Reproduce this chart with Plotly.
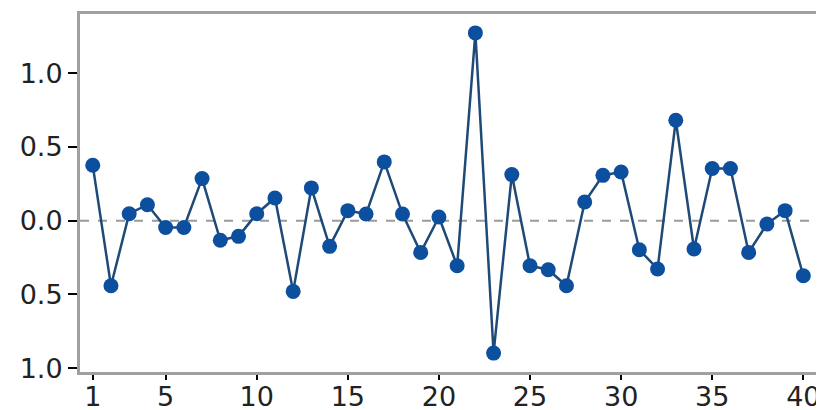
import plotly.graph_objects as go

obs = list(range(1, 41))
values = [0.375, -0.441, 0.047, 0.108, -0.046, -0.046, 0.285, -0.133, -0.106, 0.047,
          0.154, -0.479, 0.222, -0.174, 0.068, 0.045, 0.398, 0.045, -0.215, 0.025,
          -0.305, 1.272, -0.897, 0.312, -0.305, -0.332, -0.441, 0.127, 0.307, 0.330,
          -0.197, -0.327, 0.680, -0.192, 0.353, 0.353, -0.215, -0.023, 0.068, -0.373]
x_ticks = [1, 5, 10, 15, 20, 25, 30, 35, 40]
y_ticks = [1.0, 0.5, 0.0, -0.5, -1.0]
y_ticktext = ["1.0", "0.5", "0.0", "0.5", "1.0"]

fig = go.Figure()
fig.add_trace(go.Scatter(
    x=obs, y=values, mode="lines+markers",
    line=dict(color="#1f4a78", width=2.5),
    marker=dict(color="#0b4f9e", size=15),
    showlegend=False,
))
fig.add_hline(y=0, line=dict(color="#9a9a9a", width=2, dash="dash"), layer="below")

fig.update_layout(
    width=816, height=410,
    margin=dict(l=72, r=5, t=6, b=46),
    paper_bgcolor="white", plot_bgcolor="white",
    font=dict(family="DejaVu Sans", size=27, color="#222222"),
)
fig.update_xaxes(
    range=[0.3, 40.86], tickvals=x_ticks, showgrid=False, zeroline=False,
    showline=True, linecolor="#a0a0a0", linewidth=3, mirror=True,
    ticks="outside", ticklen=5, tickwidth=2, tickcolor="black",
    ticklabelstandoff=-6,
    automargin=False,
)
fig.update_yaxes(
    range=[-1.025, 1.40], tickvals=y_ticks, ticktext=y_ticktext,
    showgrid=False, zeroline=False,
    showline=True, linecolor="#a0a0a0", linewidth=3, mirror=True,
    ticks="outside", ticklen=9, tickwidth=2, tickcolor="black",
    automargin=False,
)
fig.write_html("out.html")
